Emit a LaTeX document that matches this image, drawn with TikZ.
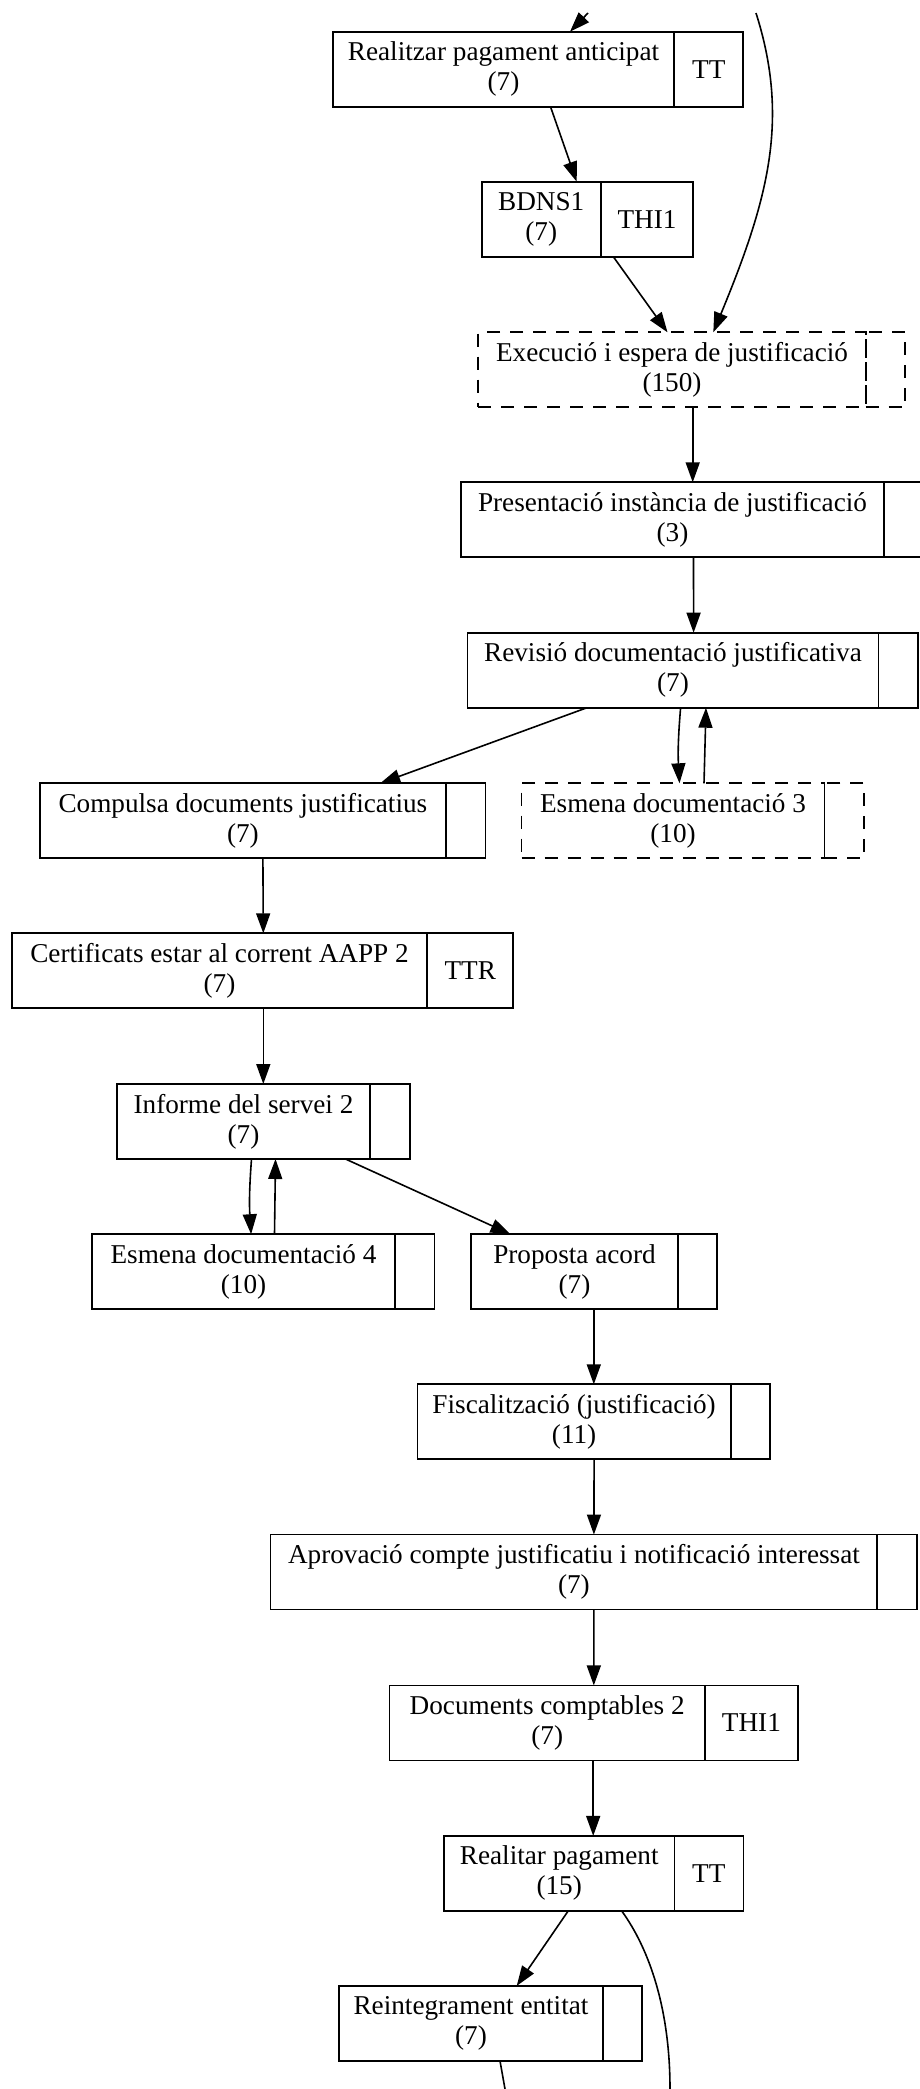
\documentclass[tikz,border=0pt]{standalone}
\usepackage{fontspec}
\setmainfont{Liberation Serif}
\usetikzlibrary{positioning,arrows.meta}

\begin{document}
\begin{tikzpicture}[x=1pt,y=-1pt,
		every node/.style={font=\fontsize{27.2}{30}\selectfont},
		cell/.style={draw, rectangle, line width=1.7pt, minimum height=75pt, inner sep=0pt, outer sep=0pt, align=center},
		side/.style={cell, minimum width=39.5pt},
		wait/.style={dash pattern=on 13pt off 10pt},
		flow/.style={line width=1.6pt, -{Triangle[length=20pt,width=14pt]}},
		wire/.style={line width=1.6pt}]
	\useasboundingbox (0,0) rectangle (920,2089);

	\node[cell, minimum width=341.6pt] (anticipat) at (503.5,69.2) {Realitzar pagament anticipat\\(7)};
	\node[side, minimum width=69pt, right=0pt of anticipat] (anticipatR) {TT};
	\node[cell, minimum width=119pt] (bdns) at (541.2,219.2) {BDNS1\\(7)};
	\node[side, minimum width=92.6pt, right=0pt of bdns] (bdnsR) {THI1};
	\node[cell, wait, minimum width=387.4pt] (execucio) at (672,369.8) {Execució i espera de justificació\\(150)};
	\node[side, wait, right=0pt of execucio] (execucioR) {};
	\node[cell, minimum width=423pt] (presentacio) at (672.5,519.8) {Presentació instància de justificació\\(3)};
	\node[side, right=0pt of presentacio] (presentacioR) {};
	\node[cell, minimum width=410.8pt] (revisio) at (673,670.2) {Revisió documentació justificativa\\(7)};
	\node[side, right=0pt of revisio] (revisioR) {};
	\node[cell, minimum width=406pt] (compulsa) at (242.9,820.8) {Compulsa documents justificatius\\(7)};
	\node[side, right=0pt of compulsa] (compulsaR) {};
	\node[cell, wait, minimum width=302.8pt] (esmenaA) at (673,820.8) {Esmena documentació 3\\(10)};
	\node[side, wait, right=0pt of esmenaA] (esmenaAR) {};
	\node[cell, minimum width=415.6pt] (certificats) at (219.5,970.8) {Certificats estar al corrent AAPP 2\\(7)};
	\node[side, minimum width=86pt, right=0pt of certificats] (certificatsR) {TTR};
	\node[cell, minimum width=253.6pt] (informe) at (243.5,1121.5) {Informe del servei 2\\(7)};
	\node[side, right=0pt of informe] (informeR) {};
	\node[cell, minimum width=302.8pt] (esmenaB) at (243.5,1271.7) {Esmena documentació 4\\(10)};
	\node[side, right=0pt of esmenaB] (esmenaBR) {};
	\node[cell, minimum width=206.5pt] (proposta) at (574.5,1271.7) {Proposta acord\\(7)};
	\node[side, right=0pt of proposta] (propostaR) {};
	\node[cell, minimum width=313.2pt] (fiscal) at (574.1,1421.8) {Fiscalització (justificació)\\(11)};
	\node[side, right=0pt of fiscal] (fiscalR) {};
	\node[cell, minimum width=606.8pt] (aprovacio) at (573.9,1572) {Aprovació compte justificatiu i notificació interessat\\(7)};
	\node[side, right=0pt of aprovacio] (aprovacioR) {};
	\node[cell, minimum width=315.7pt] (documents) at (547.2,1722.9) {Documents comptables 2\\(7)};
	\node[side, minimum width=92.7pt, right=0pt of documents] (documentsR) {THI1};
	\node[cell, minimum width=230.3pt] (pagament) at (559.2,1873.4) {Realitar pagament\\(15)};
	\node[side, minimum width=69pt, right=0pt of pagament] (pagamentR) {TT};
	\node[cell, minimum width=263.4pt] (reintegrament) at (471,2023.4) {Reintegrament entitat\\(7)};
	\node[side, right=0pt of reintegrament] (reintegramentR) {};

	\coordinate (entrada) at (588,13);
	\coordinate (retorn) at (756,13);
	\coordinate (sortidaA) at (505,2089);
	\coordinate (sortidaB) at (670,2089);

	\draw[flow] (entrada) -- ([xshift=66.5pt]anticipat.north);
	\draw[flow] ([xshift=47pt]anticipat.south) -- ([xshift=35.5pt]bdns.north);
	\draw[flow] ([xshift=12.6pt]bdnsR.south west) -- ([xshift=-4.5pt]execucio.north);
	\draw[flow] (retorn) .. controls (790,120) and (768,200) .. ([xshift=41.3pt]execucio.north);
	\draw[flow] ([xshift=20.7pt]execucio.south) -- ([xshift=20.2pt]presentacio.north);
	\draw[flow] ([xshift=21pt]presentacio.south) -- ([xshift=20.6pt]revisio.north);
	\draw[flow] ([xshift=-86pt]revisio.south) -- ([xshift=137.3pt]compulsa.north);
	\draw[flow] ([xshift=7.6pt]revisio.south) to[bend right=4] ([xshift=6.5pt]esmenaA.north);
	\draw[flow] ([xshift=31pt]esmenaA.north) -- ([xshift=33pt]revisio.south);
	\draw[flow] ([xshift=20pt]compulsa.south) -- ([xshift=43.8pt]certificats.north);
	\draw[flow] ([xshift=43.8pt]certificats.south) -- ([xshift=19.8pt]informe.north);
	\draw[flow] ([xshift=8pt]informe.south) to[bend right=4] ([xshift=7.6pt]esmenaB.north);
	\draw[flow] ([xshift=31pt]esmenaB.north) -- ([xshift=32pt]informe.south);
	\draw[flow] ([xshift=102pt]informe.south) -- ([xshift=-64pt]proposta.north);
	\draw[flow] ([xshift=19.3pt]proposta.south) -- ([xshift=19.7pt]fiscal.north);
	\draw[flow] ([xshift=20pt]fiscal.south) -- ([xshift=20pt]aprovacio.north);
	\draw[flow] ([xshift=20pt]aprovacio.south) -- ([xshift=46.6pt]documents.north);
	\draw[flow] ([xshift=46pt]documents.south) -- ([xshift=34pt]pagament.north);
	\draw[flow] ([xshift=9pt]pagament.south) -- ([xshift=45.7pt]reintegrament.north);
	\draw[wire] ([xshift=62.5pt]pagament.south) .. controls (650,1950) and (670,2010) .. (sortidaB);
	\draw[wire] ([xshift=29pt]reintegrament.south) -- (sortidaA);
\end{tikzpicture}
\end{document}
